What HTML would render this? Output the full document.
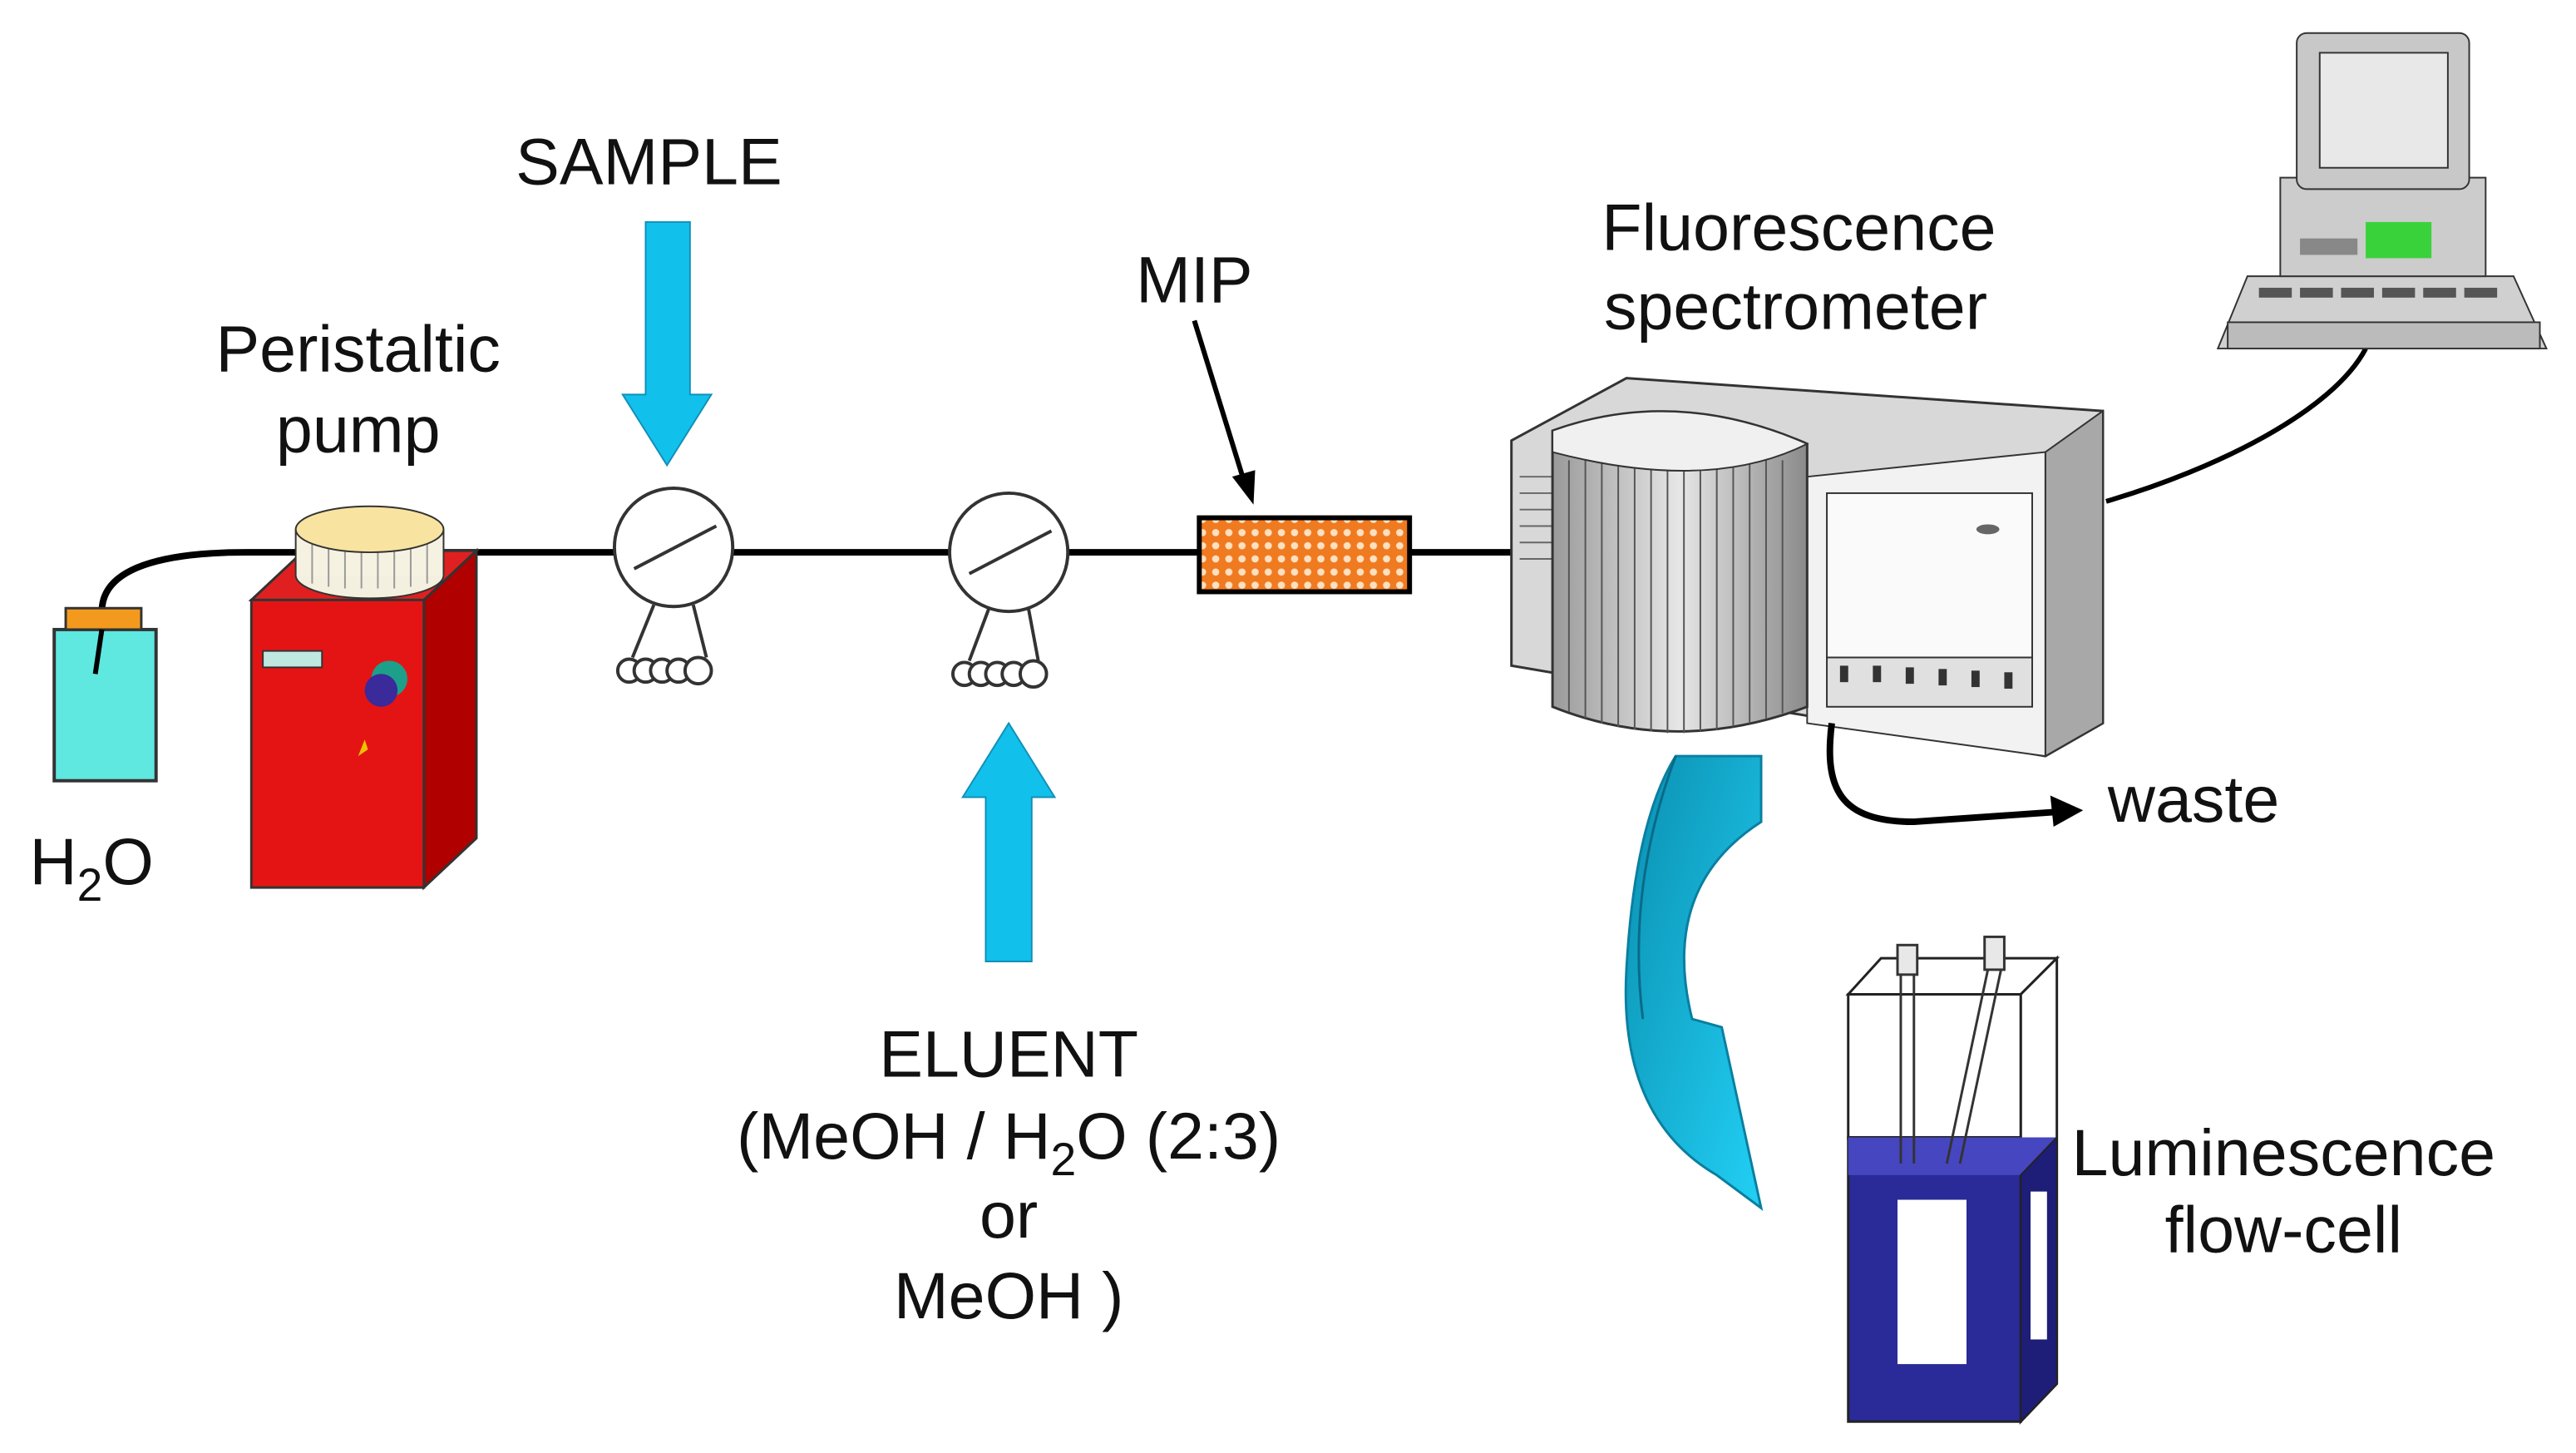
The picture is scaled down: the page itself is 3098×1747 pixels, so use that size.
<!DOCTYPE html>
<html><head><meta charset="utf-8"><style>
html,body{margin:0;padding:0;background:#fff}
svg{display:block}
text{font-family:"Liberation Sans",Arial,sans-serif;fill:#111}
</style></head><body>
<svg width="3098" height="1747" viewBox="0 0 1568 884" xmlns="http://www.w3.org/2000/svg">
<defs>
<pattern id="mip" width="8" height="8" patternUnits="userSpaceOnUse">
<rect width="8" height="8" fill="#f07a20"/><circle cx="4" cy="4" r="2.2" fill="#fde0c0"/>
</pattern>
<linearGradient id="cyl" x1="0" x2="1">
<stop offset="0" stop-color="#9a9a9a"/><stop offset="0.5" stop-color="#e6e6e6"/><stop offset="1" stop-color="#8a8a8a"/>
</linearGradient>
<linearGradient id="barr" x1="0" y1="0" x2="1" y2="1">
<stop offset="0" stop-color="#0a8fb0"/><stop offset="1" stop-color="#22d0f5"/>
</linearGradient>
</defs>

<path d="M62 372 C62 345 100 336 150 336 L925 336" fill="none" stroke="#000" stroke-width="4"/>

<rect x="33" y="383" width="62" height="92" fill="#5ee8e0" stroke="#333" stroke-width="2"/>
<rect x="40" y="370" width="46" height="13" fill="#f39a1e" stroke="#333" stroke-width="1.5"/>
<path d="M62 383 L58 410" stroke="#000" stroke-width="3"/>
<text x="18" y="538" font-size="40">H<tspan font-size="28" dy="10">2</tspan><tspan dy="-10">O</tspan></text>

<polygon points="258,365 290,335 290,510 258,540" fill="#b00000" stroke="#333" stroke-width="1.5"/>
<polygon points="153,365 185,335 290,335 258,365" fill="#e02020" stroke="#333" stroke-width="1.5"/>
<rect x="153" y="365" width="105" height="175" fill="#e41414" stroke="#333" stroke-width="1.5"/>
<rect x="160" y="396" width="36" height="10" fill="#bfe8e0" stroke="#333"/>
<circle cx="237" cy="413" r="11" fill="#1ca08a"/><circle cx="232" cy="420" r="10" fill="#3a2a9a"/>
<path d="M218 460 l4 -10 l2 6 z" fill="#f0c000"/>
<ellipse cx="225" cy="350" rx="45" ry="14" fill="#f3f0e0" stroke="#333"/>
<rect x="180" y="322" width="90" height="28" fill="#f6f2e2"/>
<path d="M180 322 V350 M270 322 V350" stroke="#333"/>
<path d="M190 326 V355 M200 327 V357 M210 328 V358 M220 328 V358 M230 328 V358 M240 328 V358 M250 327 V357 M260 326 V355" stroke="#999"/>
<ellipse cx="225" cy="322" rx="45" ry="14" fill="#f9e3a0" stroke="#333"/>
<text x="218" y="226" font-size="40" text-anchor="middle">Peristaltic</text>
<text x="218" y="275" font-size="40" text-anchor="middle">pump</text>

<text x="395" y="112" font-size="40" text-anchor="middle">SAMPLE</text>
<polygon points="393,135 420,135 420,240 433,240 406,283 379,240 393,240" fill="#12c0ec" stroke="#1090b8"/>

<g stroke="#333" stroke-width="2" fill="#fff">
<line x1="398" y1="368" x2="385" y2="400"/><line x1="422" y1="368" x2="430" y2="400"/>
<circle cx="410" cy="333" r="36"/>
<line x1="386" y1="346" x2="436" y2="320"/>
<circle cx="383" cy="408" r="7"/><circle cx="393" cy="408" r="7"/><circle cx="403" cy="408" r="7"/><circle cx="413" cy="408" r="7"/><circle cx="425" cy="408" r="8"/>
<line x1="602" y1="370" x2="590" y2="402"/><line x1="626" y1="370" x2="632" y2="402"/>
<circle cx="614" cy="336" r="36"/>
<line x1="590" y1="349" x2="640" y2="323"/>
<circle cx="587" cy="410" r="7"/><circle cx="597" cy="410" r="7"/><circle cx="607" cy="410" r="7"/><circle cx="617" cy="410" r="7"/><circle cx="629" cy="410" r="8"/>
</g>

<polygon points="614,440 642,485 628,485 628,585 600,585 600,485 586,485" fill="#12c0ec" stroke="#1090b8"/>
<text x="614" y="655" font-size="40" text-anchor="middle">ELUENT</text>
<text x="614" y="705" font-size="40" text-anchor="middle">(MeOH / H<tspan font-size="28" dy="10">2</tspan><tspan dy="-10">O (2:3)</tspan></text>
<text x="614" y="753" font-size="40" text-anchor="middle">or</text>
<text x="614" y="802" font-size="40" text-anchor="middle">MeOH )</text>

<text x="727" y="184" font-size="40" text-anchor="middle">MIP</text>
<line x1="727" y1="195" x2="757" y2="292" stroke="#000" stroke-width="3"/>
<polygon points="763,307 750,290 764,286" fill="#000"/>
<rect x="730" y="315" width="128" height="45" fill="url(#mip)" stroke="#000" stroke-width="3"/>

<polygon points="920,268 990,230 1280,250 1280,440 1245,460 920,405" fill="#d8d8d8" stroke="#333" stroke-width="1.5"/>
<polygon points="1245,275 1280,250 1280,440 1245,460" fill="#a8a8a8" stroke="#333"/>
<polygon points="1100,290 1245,275 1245,460 1100,440" fill="#f2f2f2" stroke="#333"/>
<rect x="1112" y="300" width="125" height="100" fill="#fafafa" stroke="#333"/>
<rect x="1112" y="400" width="125" height="30" fill="#e0e0e0" stroke="#333"/>
<g fill="#333"><rect x="1120" y="405" width="5" height="10"/><rect x="1140" y="405" width="5" height="10"/><rect x="1160" y="406" width="5" height="10"/><rect x="1180" y="407" width="5" height="10"/><rect x="1200" y="408" width="5" height="10"/><rect x="1220" y="409" width="5" height="10"/></g>
<ellipse cx="1210" cy="322" rx="7" ry="3" fill="#666"/>
<g stroke="#666"><line x1="925" y1="290" x2="945" y2="290"/><line x1="925" y1="300" x2="945" y2="300"/><line x1="925" y1="310" x2="945" y2="310"/><line x1="925" y1="320" x2="945" y2="320"/><line x1="925" y1="330" x2="945" y2="330"/><line x1="925" y1="340" x2="945" y2="340"/></g>
<path d="M945 262 Q1020 235 1100 270 L1100 430 Q1020 460 945 430 Z" fill="url(#cyl)" stroke="#333" stroke-width="1.5"/>
<g stroke="#555" stroke-width="1">
<line x1="955" y1="280" x2="955" y2="433"/><line x1="965" y1="280" x2="965" y2="437"/><line x1="975" y1="280" x2="975" y2="440"/><line x1="985" y1="280" x2="985" y2="442"/><line x1="995" y1="280" x2="995" y2="444"/><line x1="1005" y1="280" x2="1005" y2="445"/><line x1="1015" y1="280" x2="1015" y2="446"/><line x1="1025" y1="280" x2="1025" y2="446"/><line x1="1035" y1="280" x2="1035" y2="445"/><line x1="1045" y1="280" x2="1045" y2="444"/><line x1="1055" y1="280" x2="1055" y2="442"/><line x1="1065" y1="280" x2="1065" y2="440"/><line x1="1075" y1="280" x2="1075" y2="437"/><line x1="1085" y1="280" x2="1085" y2="434"/>
</g>
<path d="M945 262 Q1020 235 1100 270 Q1040 300 945 275 Z" fill="#f0f0f0" stroke="#333"/>
<text x="1095" y="152" font-size="40" text-anchor="middle">Fluorescence</text>
<text x="1093" y="200" font-size="40" text-anchor="middle">spectrometer</text>

<path d="M1282 305 C1350 285 1420 250 1440 212" fill="none" stroke="#000" stroke-width="3"/>

<polygon points="1350,212 1550,212 1530,168 1368,168" fill="#d0d0d0" stroke="#333"/>
<rect x="1356" y="196" width="190" height="16" fill="#bbb" stroke="#333"/>
<g fill="#555"><rect x="1375" y="175" width="20" height="6"/><rect x="1400" y="175" width="20" height="6"/><rect x="1425" y="175" width="20" height="6"/><rect x="1450" y="175" width="20" height="6"/><rect x="1475" y="175" width="20" height="6"/><rect x="1500" y="175" width="20" height="6"/></g>
<rect x="1388" y="108" width="125" height="60" fill="#ccc" stroke="#333"/>
<rect x="1400" y="145" width="35" height="10" fill="#888"/>
<rect x="1440" y="135" width="40" height="22" fill="#3ad23a"/>
<rect x="1398" y="20" width="105" height="95" rx="6" fill="#c8c8c8" stroke="#333"/>
<rect x="1412" y="32" width="78" height="70" fill="#e8e8e8" stroke="#333"/>

<path d="M1115 440 C1110 480 1120 500 1165 500 L1252 494" fill="none" stroke="#000" stroke-width="4"/>
<polygon points="1268,493 1248,484 1250,503" fill="#000"/>
<text x="1283" y="500" font-size="40">waste</text>

<path d="M1020 460 L1072 460 L1072 500 Q1010 540 1030 620 L1048 625 L1072 735 L1045 715 Q985 680 990 590 Q995 500 1020 460 Z" fill="url(#barr)" stroke="#0a7fa0" stroke-width="1.5"/>
<path d="M1020 460 Q990 540 1000 620" fill="none" stroke="#0a6a88" stroke-width="1.5"/>

<polygon points="1125,605 1145,583 1252,583 1230,605" fill="#fff" stroke="#222" stroke-width="1.5"/>
<polygon points="1230,605 1252,583 1252,842 1230,865" fill="#fff" stroke="#222" stroke-width="1.5"/>
<rect x="1125" y="605" width="105" height="88" fill="#fff" stroke="#222" stroke-width="1.5"/>
<rect x="1125" y="692" width="105" height="173" fill="#2a2a98" stroke="#222" stroke-width="1.5"/>
<polygon points="1125,692 1145,692 1252,692 1230,715 1125,715" fill="#4646c0"/>
<polygon points="1230,715 1252,692 1252,842 1230,865" fill="#1e1e78" stroke="#222"/>
<rect x="1155" y="730" width="42" height="100" fill="#fff"/>
<rect x="1236" y="725" width="10" height="90" fill="#fff"/>
<g stroke="#333" stroke-width="1.5" fill="#e8e8e8">
<rect x="1155" y="575" width="12" height="18"/><rect x="1208" y="570" width="12" height="20"/>
<line x1="1157" y1="593" x2="1157" y2="708"/><line x1="1165" y1="593" x2="1165" y2="708"/>
<line x1="1210" y1="590" x2="1185" y2="708"/><line x1="1218" y1="590" x2="1193" y2="708"/>
</g>
<text x="1390" y="715" font-size="40" text-anchor="middle">Luminescence</text>
<text x="1390" y="762" font-size="40" text-anchor="middle">flow-cell</text>
</svg>
</body></html>
